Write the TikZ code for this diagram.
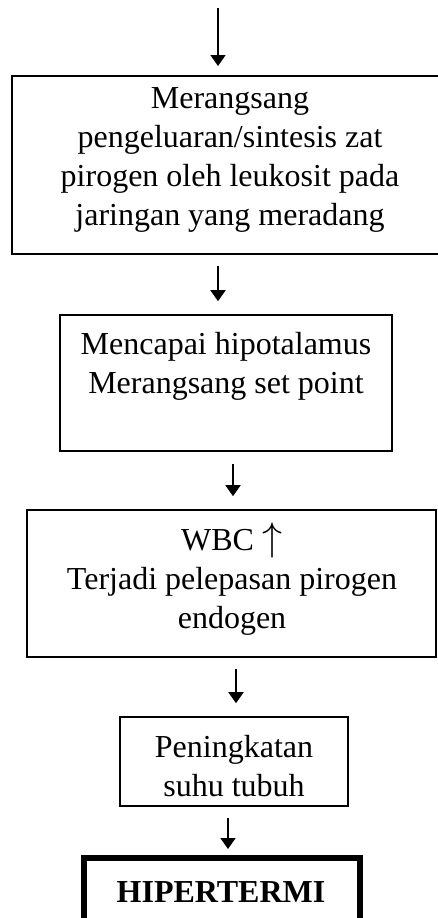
\RequirePackage{fix-cm}
\documentclass[tikz,border=0pt]{standalone}
\usepackage{fontspec}
\setmainfont{Liberation Serif}
\usetikzlibrary{arrows.meta}
\begin{document}
\begin{tikzpicture}[x=1pt,y=-1pt,
  box/.style={draw,line width=1.6pt,inner sep=0pt,rectangle},
  txt/.style={align=center,inner sep=0pt,font=\fontsize{32}{39}\selectfont},
  arr/.style={line width=1.8pt,-{Triangle[width=15pt,length=11pt]}}]
\useasboundingbox[fill=white] (0,0) rectangle (438,918);
\clip (0,0) rectangle (438,918);
% boxes
\node[box,minimum width=436pt,minimum height=178pt] (b1) at (230,165) {};
\node[box,minimum width=332pt,minimum height=136pt] (b2) at (226,383) {};
\node[box,minimum width=409pt,minimum height=147pt] (b3) at (231.5,583.5) {};
\node[box,minimum width=228pt,minimum height=89pt] (b4) at (234,761.5) {};
\node[box,line width=6pt,minimum width=276pt,minimum height=80pt] (b5) at (222,898) {};
% texts
\node[txt] (t1) at (230,160) {Merangsang\\pengeluaran/sintesis zat\\pirogen oleh leukosit pada\\jaringan yang meradang};
\node[txt] (t2) at (226,366) {Mencapai hipotalamus\\Merangsang set point};
\node[txt] (t3) at (232,582.5) {WBC\;{\fontsize{40}{40}\selectfont\smash{$\uparrow$}}\\Terjadi pelepasan pirogen\\endogen};
\node[txt] (t4) at (234,766) {Peningkatan\\suhu tubuh};
\node[txt,font=\fontsize{32}{39}\selectfont\bfseries] (t5) at (221,892) {HIPERTERMI};
% arrows
\coordinate (top) at (218,8);
\draw[arr] (top) -- (top |- 0,66);
\draw[arr] ([xshift=-12pt,yshift=-11pt]b1.south) -- ([xshift=-8pt,yshift=13pt]b2.north);
\draw[arr] ([xshift=7pt,yshift=-12pt]b2.south) -- ([xshift=1.5pt,yshift=13pt]b3.north);
\draw[arr] ([xshift=4.5pt,yshift=-11pt]b3.south) -- ([xshift=2pt,yshift=13pt]b4.north);
\draw[arr] ([xshift=-6pt,yshift=-11pt]b4.south) -- ([xshift=6pt,yshift=6pt]b5.north);
\end{tikzpicture}
\end{document}
